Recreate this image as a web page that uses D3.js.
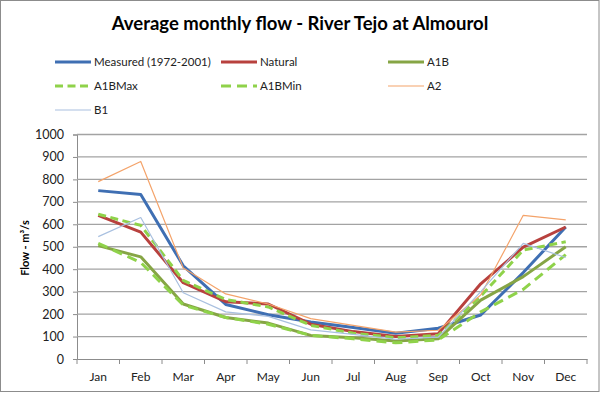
<!DOCTYPE html>
<html>
<head>
<meta charset="utf-8">
<script src="https://cdn.jsdelivr.net/npm/d3@7"></script>
<style>
  body { margin: 0; background: #fff; }
  text { font-family: Lato, "Open Sans", sans-serif; }
</style>
</head>
<body>
<div id="chart"></div>
<script>
// months along the x axis
var months = ["Jan", "Feb", "Mar", "Apr", "May", "Jun", "Jul", "Aug", "Sep", "Oct", "Nov", "Dec"];
var yTicks = [0, 100, 200, 300, 400, 500, 600, 700, 800, 900, 1000];

// flow values (m3/s)
var measured = [750, 733, 415, 243, 197, 165, 140, 115, 137, 196, 385, 588];
var natural  = [640, 565, 340, 255, 245, 155, 122, 100, 113, 335, 498, 588];
var a1b      = [505, 455, 245, 185, 160, 105,  95,  80,  90, 262, 367, 500];
var a1bMax   = [645, 595, 350, 265, 232, 150, 115,  95, 105, 280, 485, 522];
var a1bMin   = [515, 430, 240, 185, 155, 105,  90,  72,  85, 210, 310, 465];
var a2       = [790, 880, 405, 290, 245, 180, 150, 120, 128, 285, 640, 620];
var b1       = [545, 630, 295, 210, 190, 130, 110,  88,  97, 300, 515, 452];

var series = [
  {name: "Measured (1972-2001)", values: measured, color: "#3f6fb3", width: 3, dash: null},
  {name: "Natural", values: natural, color: "#b8413e", width: 3, dash: null},
  {name: "A1B", values: a1b, color: "#86a545", width: 3, dash: null},
  {name: "A1BMax", values: a1bMax, color: "#8fd24a", width: 3, dash: "8,4.5"},
  {name: "A1BMin", values: a1bMin, color: "#8fd24a", width: 3, dash: "10,6"},
  {name: "A2", values: a2, color: "#f4a36a", width: 1.2, dash: null},
  {name: "B1", values: b1, color: "#a9c0e0", width: 1.2, dash: null}
];

var W = 601, H = 393;
var svg = d3.select("#chart").append("svg")
    .attr("width", W)
    .attr("height", H);

svg.append("rect")
    .attr("x", 0).attr("y", 0).attr("width", W).attr("height", H)
    .attr("fill", "#fff");

// outer chart border
svg.append("rect")
    .attr("x", 0.5).attr("y", 0.5).attr("width", 598.5).attr("height", 391)
    .attr("fill", "none")
    .attr("stroke", "#8c8c8c")
    .attr("stroke-width", 1);

var plot = {left: 77, right: 587, top: 134.5, bottom: 359};

var x = d3.scaleBand()
    .domain(months)
    .range([plot.left, plot.right]);

var y = d3.scaleLinear()
    .domain([0, 1000])
    .range([plot.bottom, plot.top]);

// title
svg.append("text")
    .attr("x", 300)
    .attr("y", 30)
    .attr("text-anchor", "middle")
    .style("font-size", "18.5px")
    .style("font-weight", "bold")
    .attr("fill", "#000")
    .text("Average monthly flow - River Tejo at Almourol");

// gridlines + y axis
var yAxis = svg.append("g")
    .attr("transform", "translate(" + plot.left + ",0)")
    .call(d3.axisLeft(y).tickValues(yTicks).tickFormat(d3.format("d")).tickSize(4).tickPadding(9));
yAxis.select(".domain").attr("stroke", "#8c8c8c");
yAxis.selectAll(".tick line").attr("stroke", "#8c8c8c");
yAxis.selectAll(".tick text")
    .style("font-size", "12.5px")
    .style("font-family", "Lato, sans-serif")
    .attr("fill", "#222");

svg.append("g")
    .selectAll("line")
    .data(yTicks.filter(function(d) { return d > 0; }))
    .join("line")
    .attr("x1", plot.left)
    .attr("x2", plot.right)
    .attr("y1", function(d) { return y(d); })
    .attr("y2", function(d) { return y(d); })
    .attr("stroke", "#a3a3a3")
    .attr("stroke-width", 1.3);

// x axis with ticks between categories
var xAxis = svg.append("g")
    .attr("transform", "translate(0," + plot.bottom + ")")
    .call(d3.axisBottom(x).tickSize(0).tickPadding(13));
xAxis.select(".domain").attr("stroke", "#8c8c8c");
xAxis.selectAll(".tick text")
    .style("font-size", "12px")
    .style("font-family", "Lato, sans-serif")
    .attr("fill", "#222");

svg.append("g")
    .selectAll("line")
    .data(months.concat(["end"]))
    .join("line")
    .attr("x1", function(d, i) { return plot.left + i * x.step(); })
    .attr("x2", function(d, i) { return plot.left + i * x.step(); })
    .attr("y1", plot.bottom)
    .attr("y2", plot.bottom + 5)
    .attr("stroke", "#8c8c8c");

// y axis title
svg.append("text")
    .attr("transform", "translate(29,248)rotate(-90)")
    .attr("text-anchor", "middle")
    .style("font-size", "11px")
    .style("font-weight", "bold")
    .text("Flow - m³/s");

// lines
var line = d3.line()
    .x(function(d, i) { return x(months[i]) + x.bandwidth() / 2; })
    .y(function(d) { return y(d); });

svg.append("g")
    .selectAll("path")
    .data(series)
    .join("path")
    .attr("fill", "none")
    .attr("stroke", function(d) { return d.color; })
    .attr("stroke-width", function(d) { return d.width; })
    .attr("stroke-dasharray", function(d) { return d.dash; })
    .attr("stroke-linejoin", "round")
    .attr("d", function(d) { return line(d.values); });

// legend, 3 columns
var legCols = [55, 221, 388];
var legRows = [62, 86, 110];

var leg = svg.append("g")
    .selectAll("g")
    .data(series)
    .join("g")
    .attr("transform", function(d, i) {
        return "translate(" + legCols[i % 3] + "," + legRows[Math.floor(i / 3)] + ")";
    });

leg.append("line")
    .attr("x1", 0).attr("x2", 36)
    .attr("y1", 0).attr("y2", 0)
    .attr("stroke", function(d) { return d.color; })
    .attr("stroke-width", function(d) { return d.width; })
    .attr("stroke-dasharray", function(d) { return d.dash; });

leg.append("text")
    .attr("x", 39)
    .attr("y", 4)
    .style("font-size", "11.5px")
    .attr("fill", "#222")
    .text(function(d) { return d.name; });
</script>
</body>
</html>
